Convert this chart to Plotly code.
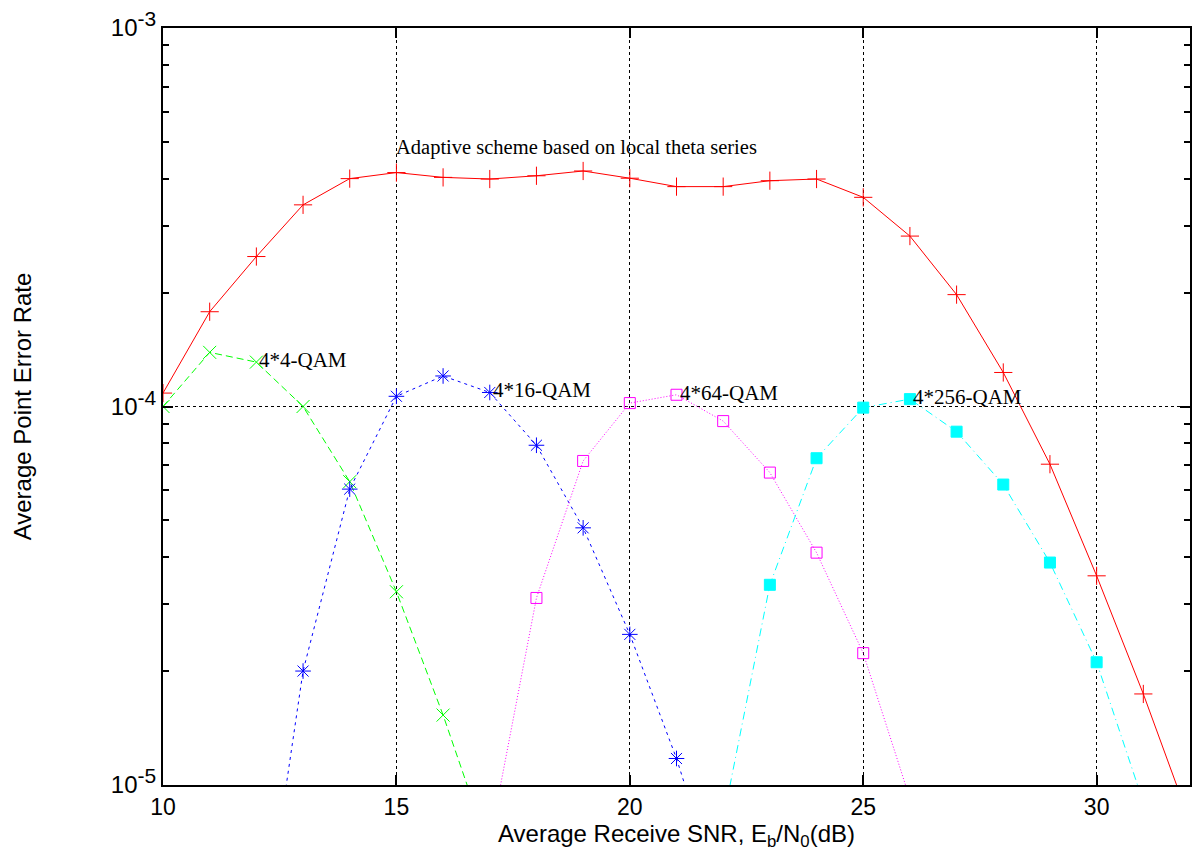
import numpy as np
import plotly.graph_objects as go

# ---- data ----
snr_adaptive = list(range(10, 33))
per_adaptive = [1.085e-4, 1.78e-4, 2.49e-4, 3.41e-4, 4.0e-4, 4.15e-4, 4.03e-4, 3.99e-4,
                4.07e-4, 4.19e-4, 4.01e-4, 3.81e-4, 3.81e-4, 3.95e-4, 3.99e-4, 3.57e-4,
                2.82e-4, 1.975e-4, 1.23e-4, 7.04e-5, 3.57e-5, 1.74e-5, 8.0e-6]

snr_qam4 = list(range(10, 18))
per_qam4 = [1.0e-4, 1.39e-4, 1.31e-4, 1.0e-4, 6.33e-5, 3.24e-5, 1.53e-5, 6.7e-6]

snr_qam16 = list(range(12, 23))
per_qam16 = [2.9e-6, 2.0e-5, 6.05e-5, 1.064e-4, 1.204e-4, 1.089e-4, 7.9e-5, 4.78e-5,
             2.5e-5, 1.175e-5, 4.8e-6]

snr_qam64 = list(range(17, 27))
per_qam64 = [7.1e-6, 3.12e-5, 7.18e-5, 1.021e-4, 1.074e-4, 9.15e-5, 6.69e-5, 4.11e-5,
             2.23e-5, 9.2e-6]

snr_qam256 = list(range(22, 32))
per_qam256 = [8.1e-6, 3.38e-5, 7.3e-5, 9.93e-5, 1.046e-4, 8.58e-5, 6.22e-5, 3.87e-5,
              2.11e-5, 9.0e-6]

x_ticks = [10, 15, 20, 25, 30]
y_ticks = [1e-5, 1e-4, 1e-3]
y_exponents = ["-5", "-4", "-3"]
y_minor = [m * 10.0 ** e for e in (-5, -4) for m in range(2, 10)]

labels = ["4*4-QAM", "4*16-QAM", "4*64-QAM", "4*256-QAM"]
label_at = [12, 17, 21, 26]  # SNR of point where label starts
adaptive_label = "Adaptive scheme based on local theta series"

y_ticktext = ['10<sup><span style="font-size:21px">%s</span></sup>' % e for e in y_exponents]

fig = go.Figure()

def add(x, y, color, dash, symbol, size):
    fig.add_trace(go.Scatter(
        x=x, y=y, mode="lines+markers",
        line=dict(color=color, width=1, dash=dash),
        marker=dict(symbol=symbol, size=size, color=color,
                    line=dict(color=color, width=1)),
        showlegend=False,
    ))

add(snr_adaptive, per_adaptive, "#ff0000", "solid", "cross-thin", 13)
add(snr_qam4, per_qam4, "#00ff00", "7px,4px", "x-thin", 13)
add(snr_qam16, per_qam16, "#0000ff", "3px,4px", "asterisk", 13)
add(snr_qam64, per_qam64, "#ff00ff", "1px,2px", "square-open", 11)
add(snr_qam256, per_qam256, "#00ffff", "8px,4px,1px,4px", "square", 11)

series = [(snr_qam4, per_qam4), (snr_qam16, per_qam16),
          (snr_qam64, per_qam64), (snr_qam256, per_qam256)]
for txt, xs, (sx, sy) in zip(labels, label_at, series):
    yv = sy[sx.index(xs)]
    fig.add_annotation(x=xs, y=np.log10(yv), text=txt, showarrow=False,
                       xanchor="left", yanchor="middle", xshift=1, yshift=2,
                       font=dict(family="Liberation Serif", size=21, color="black"))

fig.add_annotation(x=15, y=-3.317, text=adaptive_label, showarrow=False,
                   xanchor="left", yanchor="middle", xshift=-2,
                   font=dict(family="Liberation Serif", size=20.5, color="black"))

fig.update_layout(
    width=1199, height=862,
    margin=dict(l=163, r=7, t=22, b=77),
    plot_bgcolor="white", paper_bgcolor="white",
    font=dict(family="Liberation Sans", size=23, color="black"),
)

fig.update_xaxes(
    range=[10, 32], tickmode="array", tickvals=x_ticks,
    ticks="inside", ticklen=10, tickwidth=2, tickcolor="black",
    showline=True, linecolor="black", linewidth=2, mirror="ticks",
    showgrid=True, gridcolor="black", griddash="dot", gridwidth=1,
    zeroline=False,
    title=dict(text="Average Receive SNR, E<sub>b</sub>/N<sub>0</sub>(dB)",
               font=dict(size=24), standoff=6),
    tickfont=dict(size=23),
)

fig.update_yaxes(
    type="log", range=[-5, -3], tickmode="array", tickvals=y_ticks,
    ticktext=y_ticktext,
    ticks="inside", ticklen=10, tickwidth=2, tickcolor="black",
    minor=dict(tickmode="array", tickvals=y_minor, ticks="inside", ticklen=6,
               tickwidth=2, tickcolor="black", showgrid=False),
    showline=True, linecolor="black", linewidth=2, mirror="ticks",
    showgrid=True, gridcolor="black", griddash="dot", gridwidth=1,
    zeroline=False,
    title=dict(text="Average Point Error Rate", font=dict(size=24), standoff=72),
    tickfont=dict(size=24),
    ticklabeloverflow="allow",
)

fig.write_html("out.html", config={"displayModeBar": False},
               post_script="document.body.style.margin='0px';document.body.style.overflow='hidden';")
